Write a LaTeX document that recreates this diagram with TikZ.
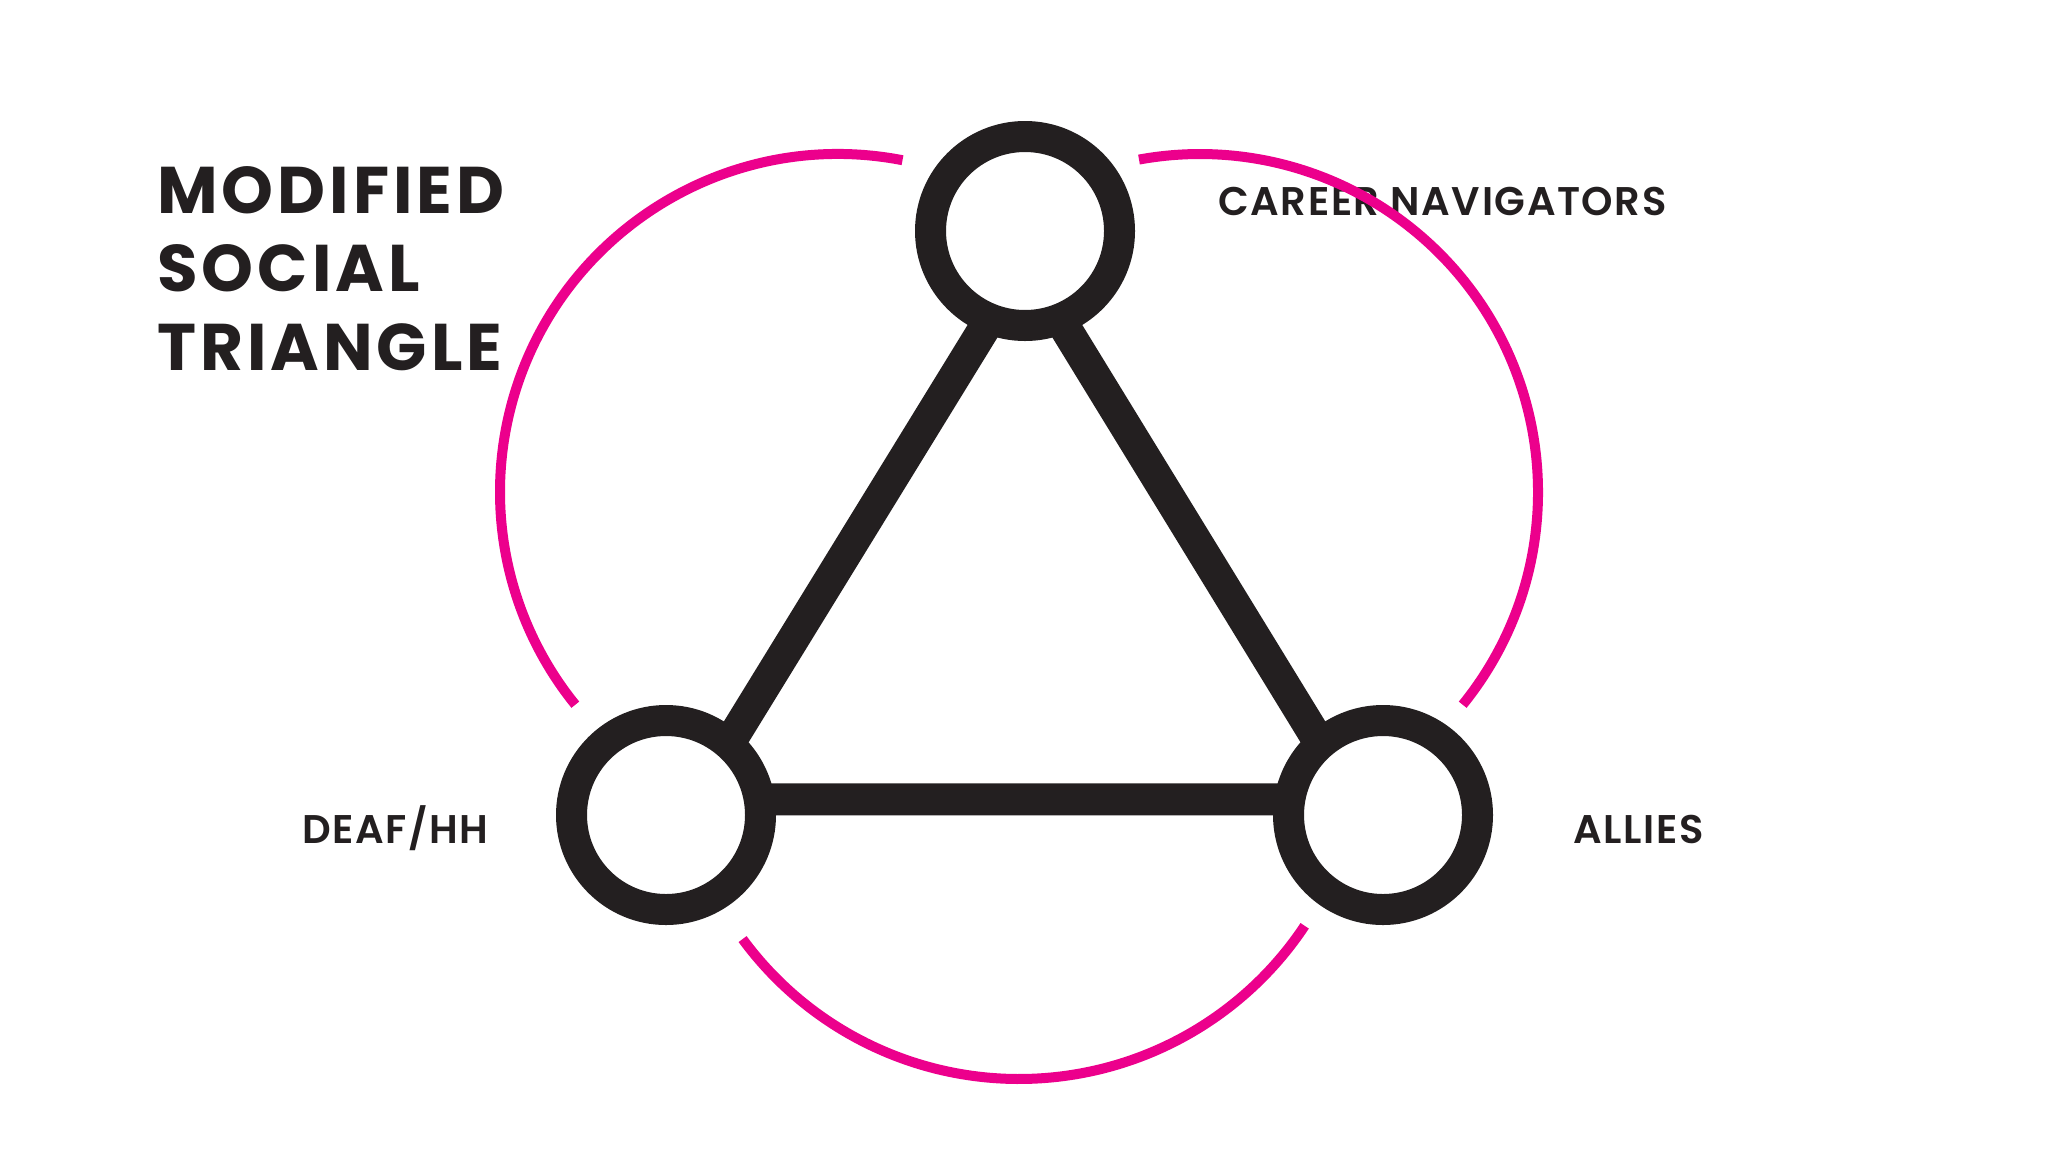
\documentclass[tikz,border=0pt]{standalone}
\usepackage{fontspec}
\usepackage{tikz}
\usetikzlibrary{positioning, calc, backgrounds}
\setmainfont{Poppins}
\newfontfamily\headfont{Poppins Bold}[LetterSpace=6]
\newfontfamily\tagfont{Poppins SemiBold}[LetterSpace=4]
\definecolor{ink}{HTML}{231F20}
\definecolor{loopPink}{HTML}{EC008C}

\begin{document}
\begin{tikzpicture}[
  x=0.5pt, y=-0.5pt,
  hub/.style = {circle, draw=ink, line width=15.5pt, fill=white, minimum size=94.5pt, inner sep=0pt},
  edge/.style = {draw=ink, line width=16pt, line join=miter},
  loop/.style = {draw=loopPink, line width=5pt},
  head/.style = {anchor=base west, inner sep=0pt, text=ink, font=\headfont\fontsize{33}{39}\selectfont},
  tag/.style = {anchor=base west, inner sep=0pt, text=ink, font=\tagfont\fontsize{20}{24}\selectfont}
]
  \useasboundingbox (0,0) rectangle (2048,1152);

  % Title
  \node[head] (headA) at (157,213) {MODIFIED};
  \node[head] (headB) at (157,291) {SOCIAL};
  \node[head] (headC) at (157,370) {TRIANGLE};

  % Corners
  \node[hub] (career) at (1025,231) {};
  \node[hub] (deaf) at (666,815) {};
  \node[hub] (allies) at (1383,815) {};

  % Edges, behind the corners
  \coordinate (mid) at (barycentric cs:career=1,deaf=1,allies=1);
  \begin{scope}[on background layer]
    \fill[white] (0,0) rectangle (2048,1152);
    \draw[edge] ($(career.center)!0.08!(mid)$) -- ($(deaf.center)!0.08!(mid)$)
      -- ($(allies.center)!0.08!(mid)$) -- cycle;
  \end{scope}

  % Labels
  \node[tag] (careerTag) at (1218,215) {CAREER NAVIGATORS};
  \node[tag] (deafTag) at (302,843) {DEAF/HH};
  \node[tag] (alliesTag) at (1573,843) {ALLIES};

  % Loops
  \coordinate (loopL) at (838,492);
  \coordinate (loopR) at (1200,492);
  \coordinate (loopB) at (1019,736);
  \draw[loop] (loopL) ++(-79:338) arc[start angle=-79, end angle=-219, radius=338];
  \draw[loop] (loopR) ++(39:338) arc[start angle=39, end angle=-100.4, radius=338];
  \draw[loop] (loopB) ++(143.7:343) arc[start angle=143.7, end angle=33.6, radius=343];

\end{tikzpicture}
\end{document}
